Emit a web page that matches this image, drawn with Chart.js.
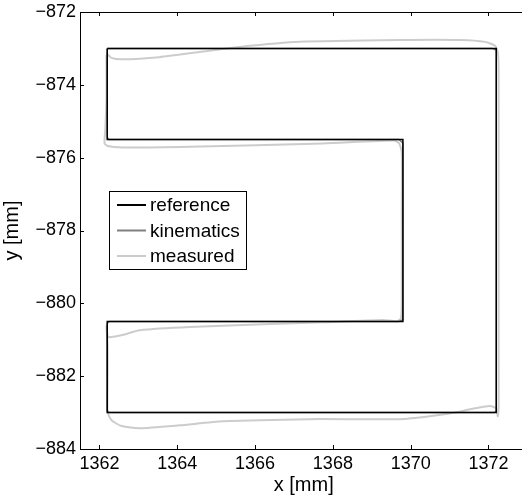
<!DOCTYPE html>
<html>
<head>
<meta charset="utf-8">
<script src="https://cdn.jsdelivr.net/npm/chart.js@4"></script>
<style>
html,body{margin:0;padding:0;background:#fff;overflow:hidden;width:522px;height:497px;}
canvas{display:block;}
</style>
</head>
<body>
<canvas id="c" width="540" height="497"></canvas>
<script>
// ---- data ----
const seriesNames = ["reference", "kinematics", "measured"];
const xTicks = [1362, 1364, 1366, 1368, 1370, 1372];
const yTicks = [-884, -882, -880, -878, -876, -874, -872];

const refX = [1362.2, 1372.2, 1372.2, 1362.2, 1362.2, 1369.8, 1369.8, 1362.2, 1362.2];
const refY = [-873.0, -873.0, -883.0, -883.0, -880.5, -880.5, -875.5, -875.5, -873.0];

const kinX = [1362.2, 1372.1, 1372.2, 1372.2, 1372.15, 1362.25, 1362.2, 1362.2, 1362.25, 1369.7, 1369.8, 1369.8, 1369.7, 1362.25, 1362.2, 1362.2];
const kinY = [-873.0, -873.0, -873.05, -882.95, -883.0, -883.0, -882.95, -880.55, -880.5, -880.5, -880.45, -875.6, -875.5, -875.5, -875.45, -873.0];

const measX = [1362.18, 1362.31, 1362.59, 1363.54, 1364.57, 1365.60, 1367.15, 1369.72, 1371.27, 1371.91, 1372.17, 1372.24,
  1372.26, 1372.26, 1372.26, 1372.26, 1372.24,
  1372.19, 1372.04, 1371.52, 1371.19, 1370.49, 1369.72, 1367.41, 1365.17, 1364.06, 1363.03, 1362.57, 1362.31, 1362.21,
  1362.21, 1362.21, 1362.18, 1362.21, 1362.26,
  1362.59, 1363.03, 1364.32, 1367.74, 1369.28, 1369.64, 1369.75,
  1369.77, 1369.77, 1369.77, 1369.70, 1369.57,
  1367.74, 1364.32, 1362.59, 1362.21, 1362.13,
  1362.15, 1362.18, 1362.18, 1362.18];
const measY = [-873.13, -873.26, -873.30, -873.24, -873.10, -872.96, -872.82, -872.77, -872.77, -872.82, -872.93, -873.10,
  -873.59, -877.16, -881.29, -882.80, -883.10,
  -882.88, -882.82, -882.91, -882.99, -883.10, -883.18, -883.18, -883.24, -883.35, -883.43, -883.37, -883.21, -882.99,
  -882.11, -881.20, -880.62, -880.90, -880.93,
  -880.87, -880.74, -880.65, -880.52, -880.46, -880.49, -880.41,
  -879.91, -877.50, -875.85, -875.60, -875.53,
  -875.61, -875.70, -875.72, -875.68, -875.60,
  -875.24, -874.42, -873.59, -873.18];

const colors = ["#000000", "#7f7f7f", "#cccccc"];

function pts(xs, ys){ return xs.map((x,i)=>({x:x, y:ys[i]})); }

const FONT = "'Liberation Sans', Arial, Helvetica, sans-serif";

const framePlugin = {
  id: 'frame',
  afterDraw(chart){
    const ctx = chart.ctx, a = chart.chartArea;
    const xs = chart.scales.x, ys = chart.scales.y;
    ctx.save();
    ctx.strokeStyle = '#000';
    ctx.lineWidth = 1;
    ctx.beginPath();
    ctx.rect(Math.round(a.left)+0.5, Math.round(a.top)+0.5, Math.round(a.right-a.left), Math.round(a.bottom-a.top));
    ctx.stroke();
    const tl = 4;
    ctx.beginPath();
    xTicks.forEach(v=>{
      const px = Math.round(xs.getPixelForValue(v))+0.5;
      ctx.moveTo(px, a.bottom); ctx.lineTo(px, a.bottom - tl);
      ctx.moveTo(px, a.top); ctx.lineTo(px, a.top + tl);
    });
    yTicks.forEach(v=>{
      const py = Math.round(ys.getPixelForValue(v))+0.5;
      ctx.moveTo(a.left, py); ctx.lineTo(a.left + tl, py);
      ctx.moveTo(a.right, py); ctx.lineTo(a.right - tl, py);
    });
    ctx.stroke();

    // legend box
    const bx = 109.5, by = 191.5, bw = 137, bh = 78;
    ctx.fillStyle = '#fff';
    ctx.fillRect(bx, by, bw, bh);
    ctx.strokeRect(bx, by, bw, bh);
    ctx.font = '19px ' + FONT;
    ctx.textBaseline = 'middle';
    ctx.textAlign = 'left';
    const rows = [205, 230.5, 256];
    seriesNames.forEach((n,i)=>{
      ctx.strokeStyle = colors[i];
      ctx.lineWidth = 2;
      ctx.beginPath();
      ctx.moveTo(117, rows[i]); ctx.lineTo(146, rows[i]);
      ctx.stroke();
      ctx.fillStyle = '#000';
      ctx.fillText(n, 150, rows[i] + 1);
    });
    ctx.restore();
  }
};

new Chart(document.getElementById('c'), {
  type: 'scatter',
  data: {
    datasets: [
      {label: seriesNames[0], data: pts(refX, refY), borderColor: colors[0], borderWidth: 1.5, showLine: true, pointRadius: 0, order: 1, tension: 0},
      {label: seriesNames[1], data: pts(kinX, kinY), borderColor: colors[1], borderWidth: 1.5, showLine: true, pointRadius: 0, order: 2, tension: 0},
      {label: seriesNames[2], data: pts(measX, measY), borderColor: colors[2], borderWidth: 2, showLine: true, pointRadius: 0, order: 3, tension: 0.2}
    ]
  },
  options: {
    responsive: false,
    animation: false,
    devicePixelRatio: 1,
    layout: {padding: {top: 12, right: 12.6, left: 0, bottom: 0}},
    plugins: {legend: {display: false}, tooltip: {enabled: false}},
    scales: {
      x: {
        type: 'linear', min: 1361.5, max: 1373,
        afterBuildTicks: s => { s.ticks = xTicks.map(v=>({value:v})); },
        afterFit: s => { s.height = 48; },
        grid: {display: false, drawTicks: false},
        border: {display: false},
        ticks: {color: '#000', font: {family: FONT, size: 18}, padding: 4, maxRotation: 0, callback: v => String(v)},
        title: {display: true, text: 'x [mm]', color: '#000', font: {family: FONT, size: 20}, padding: {top: 0, bottom: 0}}
      },
      y: {
        type: 'linear', min: -884, max: -872,
        afterBuildTicks: s => { s.ticks = yTicks.map(v=>({value:v})); },
        afterFit: s => { s.width = 80; s.paddingTop = 0; s.paddingBottom = 0; },
        grid: {display: false, drawTicks: false},
        border: {display: false},
        ticks: {color: '#000', font: {family: FONT, size: 18, lineHeight: 0.9}, padding: 4, callback: v => String(v).replace('-', '\u2212')},
        title: {display: true, text: 'y [mm]', color: '#000', font: {family: FONT, size: 20}, padding: {top: 0, bottom: 3}}
      }
    }
  },
  plugins: [framePlugin]
});
</script>
</body>
</html>
